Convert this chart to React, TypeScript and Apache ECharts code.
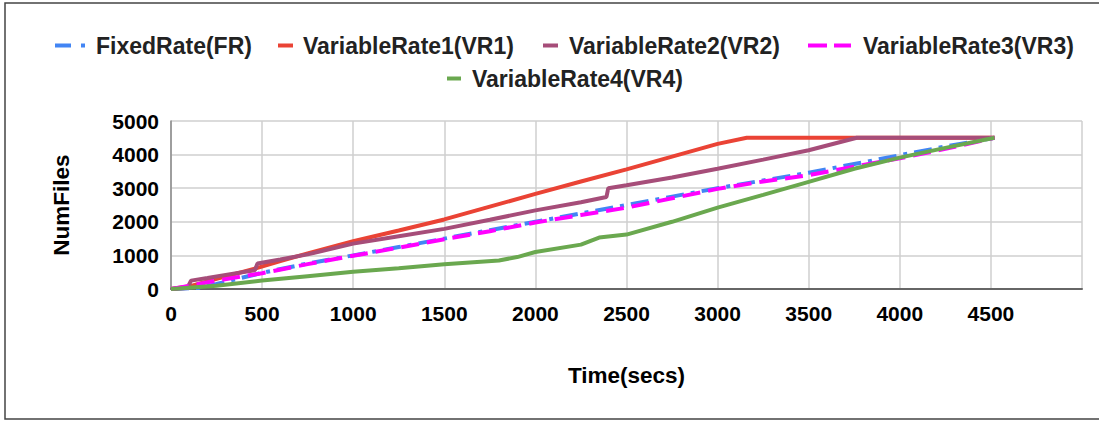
import React, { useEffect, useRef } from "react";
import * as echarts from "echarts";

const seriesNames = [
  "FixedRate(FR)",
  "VariableRate1(VR1)",
  "VariableRate2(VR2)",
  "VariableRate3(VR3)",
  "VariableRate4(VR4)",
];

const frTime = [0, 150, 250, 500, 750, 1000, 1250, 1500, 1750, 2000, 2250, 2500, 2750, 3000, 3250, 3500, 3750, 4000, 4250, 4520];
const frFiles = [0, 30, 150, 480, 760, 1000, 1250, 1500, 1750, 2000, 2250, 2500, 2750, 3000, 3230, 3460, 3720, 3980, 4240, 4500];

const vr1Time = [0, 100, 250, 470, 600, 750, 1000, 1250, 1500, 1750, 2000, 2250, 2500, 2750, 3000, 3160, 4520];
const vr1Files = [0, 80, 300, 620, 830, 1060, 1420, 1740, 2070, 2450, 2830, 3200, 3560, 3940, 4320, 4500, 4500];

const vr2Time = [0, 90, 110, 200, 300, 460, 475, 600, 750, 1000, 1250, 1500, 1750, 2000, 2250, 2390, 2400, 2500, 2750, 3000, 3250, 3500, 3764, 4520];
const vr2Files = [0, 30, 250, 330, 420, 560, 760, 880, 1030, 1350, 1570, 1790, 2060, 2340, 2580, 2740, 3000, 3090, 3320, 3580, 3850, 4130, 4500, 4500];

const vr3Time = [0, 130, 250, 500, 750, 1000, 1250, 1500, 1750, 2000, 2250, 2500, 2750, 3000, 3250, 3500, 3750, 4000, 4250, 4520];
const vr3Files = [0, 120, 250, 470, 740, 990, 1230, 1480, 1720, 1980, 2200, 2420, 2700, 2980, 3200, 3390, 3640, 3890, 4170, 4500];

const vr4Time = [0, 250, 500, 750, 1000, 1250, 1500, 1800, 1900, 2000, 2250, 2350, 2500, 2750, 3000, 3250, 3500, 3750, 4000, 4250, 4520];
const vr4Files = [0, 100, 250, 380, 510, 620, 735, 850, 950, 1100, 1320, 1530, 1620, 2000, 2420, 2800, 3190, 3580, 3910, 4200, 4500];

const xTicks = [0, 500, 1000, 1500, 2000, 2500, 3000, 3500, 4000, 4500];

const colors = ["#4285F4", "#EA4335", "#A64D79", "#FF00FF", "#6AA84F"];

const FONT = "'Liberation Sans', Arial, sans-serif";

function zip(t: number[], v: number[]) {
  return t.map((x, i) => [x, v[i]]);
}

export default function App() {
  const ref = useRef<HTMLDivElement>(null);
  useEffect(() => {
    if (!ref.current) return;
    const chart = echarts.init(ref.current, undefined, { renderer: "svg" });
    const dataSets = [
      zip(frTime, frFiles),
      zip(vr1Time, vr1Files),
      zip(vr2Time, vr2Files),
      zip(vr3Time, vr3Files),
      zip(vr4Time, vr4Files),
    ];
    const dashTypes: any[] = [[18, 7, 4, 7], "solid", "solid", [18, 8], "solid"];
    const legendIconDash: any[] = [[16, 10, 4, 10], "solid", "solid", [19, 7], "solid"];
    const legendLefts = [48, 271, 536, 801, 440];
    const legendTops = [29, 29, 29, 29, 62];
    const legendWidths = [31, 15, 15, 43, 14];
    const legendExtra = [5, 5, 6, 7, 6];

    const legends = seriesNames.map((n, i) => ({
      data: [n],
      left: legendLefts[i],
      top: legendTops[i],
      orient: "horizontal",
      itemWidth: legendWidths[i],
      itemHeight: 14,
      itemStyle: { opacity: 0 },
      lineStyle: { type: legendIconDash[i], width: 4, cap: "butt" },
      textStyle: {
        fontFamily: FONT,
        fontWeight: "bold",
        fontSize: 23,
        color: "#222",
        padding: [0, 0, 0, legendExtra[i]],
      },
    }));

    chart.setOption({
      animation: false,
      backgroundColor: "#fff",
      color: colors,
      legend: legends,
      graphic: [
        {
          type: "rect",
          shape: { x: 5, y: 3, width: 1200, height: 416 },
          style: { fill: "none", stroke: "#444", lineWidth: 1.5 },
          silent: true,
          z: 100,
        },
      ],
      grid: { left: 171, top: 121, width: 911, height: 168, containLabel: false },
      xAxis: {
        type: "value",
        min: 0,
        max: 5000,
        interval: 500,
        name: "Time(secs)",
        nameLocation: "middle",
        nameGap: 75,
        nameTextStyle: { fontFamily: FONT, fontWeight: "bold", fontSize: 22.5, color: "#000" },
        axisLine: { show: true, lineStyle: { color: "#666", width: 2 } },
        axisTick: { show: false },
        axisLabel: {
          margin: 14,
          fontFamily: FONT,
          fontWeight: "bold",
          fontSize: 21,
          color: "#000",
          formatter: (v: number) => (xTicks.indexOf(v) >= 0 ? String(v) : ""),
        },
        splitLine: { show: true, lineStyle: { color: "#cfcfcf", width: 1.5 } },
      },
      yAxis: {
        type: "value",
        min: 0,
        max: 5000,
        interval: 1000,
        name: "NumFiles",
        nameLocation: "middle",
        nameGap: 98,
        nameTextStyle: { fontFamily: FONT, fontWeight: "bold", fontSize: 22.5, color: "#000" },
        axisLine: { show: true, lineStyle: { color: "#8a8a8a", width: 1.5 } },
        axisTick: { show: false },
        axisLabel: {
          margin: 12,
          fontFamily: FONT,
          fontWeight: "bold",
          fontSize: 21,
          color: "#000",
          formatter: (v: number) => String(v),
        },
        splitLine: { show: true, lineStyle: { color: "#cfcfcf", width: 1.5 } },
      },
      series: seriesNames.map((n, i) => ({
        name: n,
        type: "line",
        data: dataSets[i],
        showSymbol: false,
        symbol: "none",
        lineStyle: { color: colors[i], width: 4, type: dashTypes[i], cap: "butt" },
        itemStyle: { color: colors[i] },
        z: 2 + i,
      })),
    });
    return () => chart.dispose();
  }, []);
  return (
    <div
      ref={ref}
      style={{ position: "absolute", left: 0, top: 0, width: 1099, height: 421, background: "#fff" }}
    />
  );
}
